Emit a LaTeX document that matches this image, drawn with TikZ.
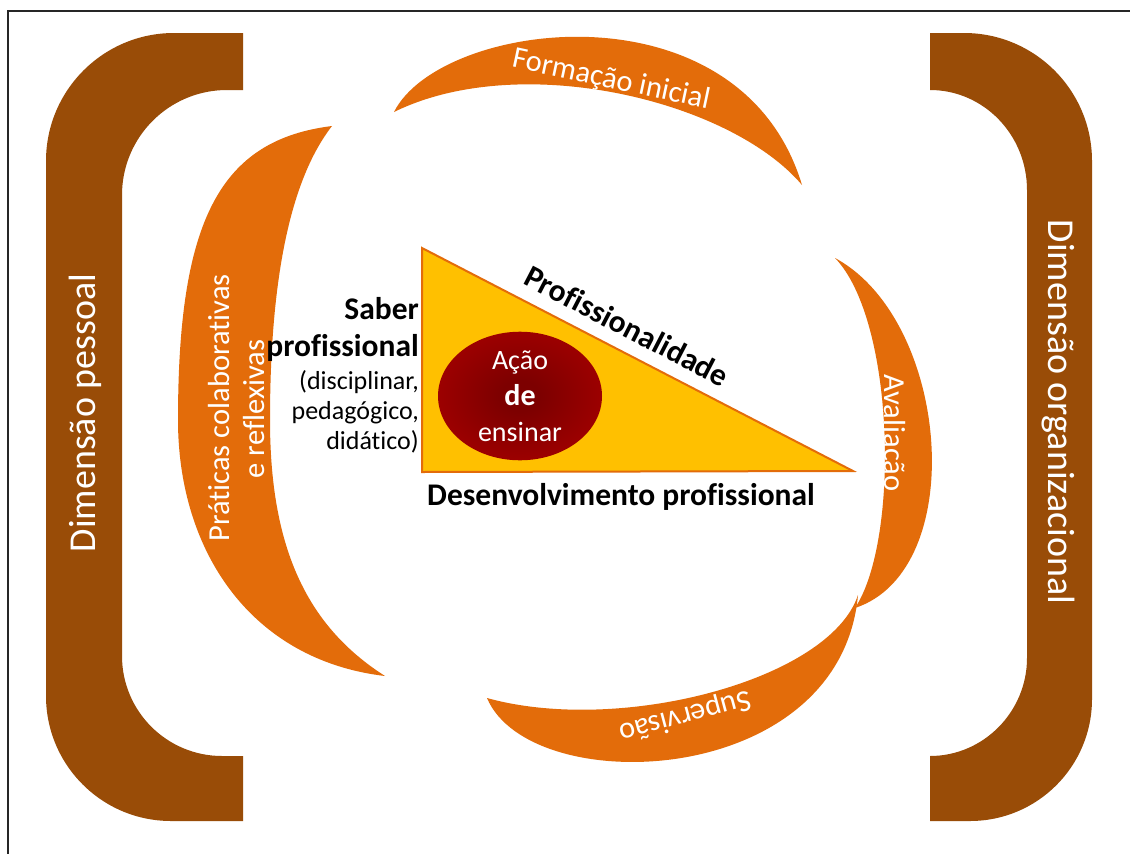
\documentclass[tikz,border=0pt]{standalone}
\usepackage{fontspec}
\setmainfont{Carlito}[Ligatures=NoCommon]
\usetikzlibrary{shapes.geometric}
\definecolor{brk}{RGB}{153,76,7}
\definecolor{orn}{RGB}{227,108,10}
\definecolor{gold}{RGB}{255,192,0}
\definecolor{dred}{RGB}{125,0,0}
\definecolor{bred}{RGB}{192,0,0}
\pgfdeclareradialshading{ellshade}{\pgfpoint{0bp}{0bp}}{color(0bp)=(dred); color(6bp)=(dred); color(47bp)=(bred); color(50bp)=(bred)}
\begin{document}
\begin{tikzpicture}[x=1pt,y=-1pt,
  wa/.style={text=white, inner sep=0pt, font=\fontsize{30.5}{36}\selectfont},
  dimtxt/.style={text=white, inner sep=0pt, font=\fontsize{38}{46}\selectfont},
  blk/.style={text=black, inner sep=0pt, font=\bfseries\fontsize{31.5}{37}\selectfont},
  reg/.style={text=black, inner sep=0pt, font=\fontsize{26}{30}\selectfont},
  crescent/.style={fill=orn},
  bracketshape/.style={fill=brk}]
\useasboundingbox (0,0) rectangle (1130,854);
\fill[white] (0,0) rectangle (1130,854);
\draw[line width=1.2pt, black!85] (1130,11) -- (8,11) -- (8,854);

% left bracket
\fill[bracketshape] (243,33) -- (174,33) .. controls (103.3,33) and (46,90.3) .. (46,161)
  -- (46,696) .. controls (46,765) and (102,821) .. (171,821) -- (243,821) -- (243,756)
  -- (222,756) .. controls (166.8,756) and (122,711.2) .. (122,656)
  -- (122,195) .. controls (122,137) and (169,90) .. (227,90) -- (243,90) -- cycle;
% right bracket
\fill[bracketshape] (930,33) -- (964,33) .. controls (1034.7,33) and (1092,90.3) .. (1092,161)
  -- (1092,699) .. controls (1092,766.4) and (1037.4,821) .. (970,821) -- (930,821) -- (930,756)
  .. controls (983.6,756) and (1027,711.6) .. (1027,658)
  -- (1027,190) .. controls (1027,134.8) and (983.6,90) .. (930,90) -- cycle;

% crescents
\fill[crescent] (394,112) .. controls (440,20) and (740,-20) .. (802,185)
  .. controls (730,100) and (520,50) .. (394,112) -- cycle;
\fill[crescent] (332,126) .. controls (220,140) and (178,220) .. (178,420)
  .. controls (178,550) and (250,660) .. (385,676)
  .. controls (305,625) and (270,545) .. (270,420)
  .. controls (270,280) and (290,180) .. (332,126) -- cycle;
\fill[crescent] (835,258) .. controls (950,320) and (970,570) .. (855,608)
  .. controls (900,540) and (895,320) .. (835,258) -- cycle;
\fill[crescent] (487,698) .. controls (530,800) and (840,790) .. (858,595)
  .. controls (830,680) and (620,735) .. (487,698) -- cycle;

% bracket labels
\node[dimtxt, rotate=90] (dimp) at (85,413) {Dimensão pessoal};
\node[dimtxt, rotate=-90] (dimo) at (1058,412) {Dimensão organizacional};

% crescent labels
\node[wa, rotate=-12] (form) at (611,80) {Formação inicial};
\node[wa, rotate=90] (prat1) at (219,408) {Práticas colaborativas};
\node[wa, rotate=90] (prat2) at (254,409) {e reflexivas};
\node[wa, rotate=-90] (aval) at (893,433) {Avaliação};
\node[wa, rotate=195] (sup) at (685,716) {Supervisão};

% triangle
\draw[line width=2pt, orn, fill=gold, line join=miter] (422,248) -- (422,472) -- (853,471) -- cycle;

% ellipse
\node[ellipse, minimum width=164pt, minimum height=120pt, inner sep=0pt, shade, shading=ellshade,
  text=white, align=center, font=\fontsize{28}{36}\selectfont] (act) at (520,396)
  {Ação\\{\bfseries\fontsize{30}{36}\selectfont de}\\ensinar};

% labels
\node[blk, align=right, anchor=east] (saber) at (419,329) {Saber\\profissional};
\node[reg, align=right, anchor=east] (sabsub) at (419,412) {(disciplinar,\\pedagógico,\\didático)};
\node[blk, rotate=-27.4] (prof) at (627,326) {Profissionalidade};
\node[blk] (desenv) at (621,497) {Desenvolvimento profissional};
\end{tikzpicture}
\end{document}
